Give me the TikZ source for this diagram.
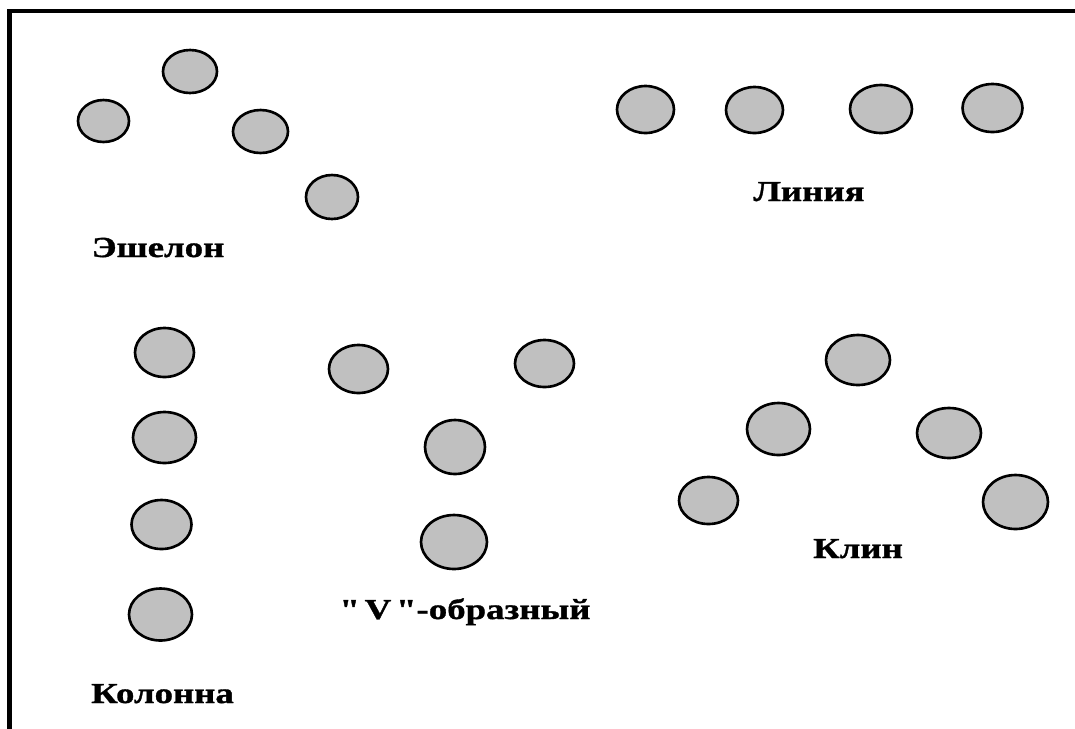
\documentclass[tikz,border=0pt]{standalone}
\usepackage{fontspec}
\setmainfont{Liberation Serif}[Ligatures=TeXOff]
\newfontfamily\lblfont{Liberation Serif}[Ligatures=TeXOff, FakeStretch=1.27, FakeBold=1.2]
\usetikzlibrary{shapes.geometric}
\definecolor{circgray}{HTML}{C0C0C0}
\tikzset{
  unit/.style={ellipse, draw=black, line width=1.5pt, fill=circgray, inner sep=0pt},
  lbl/.style={font=\lblfont\fontsize{16.5}{18}\selectfont\bfseries, anchor=base, inner sep=0pt},
}
\begin{document}
\begin{tikzpicture}[x=0.02cm, y=-0.02cm]
\useasboundingbox (0,0) rectangle (1075,728);
\begin{scope}
\clip (0,0) rectangle (1075,728);
\draw[line width=2.6pt] (1200,11) -- (9.5,11) -- (9.5,800);
\end{scope}
% Echelon
\node[unit, minimum width=1.02cm, minimum height=0.84cm] (e1) at (103.5,121) {};
\node[unit, minimum width=1.08cm, minimum height=0.86cm] (e2) at (190,71.5) {};
\node[unit, minimum width=1.10cm, minimum height=0.86cm] (e3) at (260.5,131.5) {};
\node[unit, minimum width=1.04cm, minimum height=0.88cm] (e4) at (332,197) {};
\node[lbl] (le) at (158,257) {Эшелон};
% Line
\node[unit, minimum width=1.14cm, minimum height=0.94cm] (l1) at (645.5,109.5) {};
\node[unit, minimum width=1.14cm, minimum height=0.92cm] (l2) at (754.5,110) {};
\node[unit, minimum width=1.24cm, minimum height=0.96cm] (l3) at (881,109) {};
\node[unit, minimum width=1.20cm, minimum height=0.96cm] (l4) at (992.5,108) {};
\node[lbl] (ll) at (809,201) {Линия};
% Column
\node[unit, minimum width=1.18cm, minimum height=0.98cm] (k1) at (164.5,352.5) {};
\node[unit, minimum width=1.26cm, minimum height=1.02cm] (k2) at (164.5,437.5) {};
\node[unit, minimum width=1.20cm, minimum height=0.98cm] (k3) at (161.5,524.5) {};
\node[unit, minimum width=1.26cm, minimum height=1.04cm] (k4) at (160.5,614.5) {};
\node[lbl] (lk) at (162.5,703) {Колонна};
% V-shaped
\node[unit, minimum width=1.18cm, minimum height=0.96cm] (v1) at (358.5,369) {};
\node[unit, minimum width=1.18cm, minimum height=0.94cm] (v2) at (544.5,363.5) {};
\node[unit, minimum width=1.20cm, minimum height=1.08cm] (v3) at (455,447) {};
\node[unit, minimum width=1.32cm, minimum height=1.08cm] (v4) at (454,542) {};
\node[lbl] (lv) at (465,619) {"\,V\,"-образный};
% Wedge
\node[unit, minimum width=1.28cm, minimum height=1.00cm] (w1) at (858,360) {};
\node[unit, minimum width=1.26cm, minimum height=1.04cm] (w2) at (778.5,429) {};
\node[unit, minimum width=1.28cm, minimum height=1.00cm] (w3) at (949,433) {};
\node[unit, minimum width=1.18cm, minimum height=0.94cm] (w4) at (708.5,500.5) {};
\node[unit, minimum width=1.30cm, minimum height=1.08cm] (w5) at (1015.5,502) {};
\node[lbl] (lw) at (858,558) {Клин};
\end{tikzpicture}
\end{document}
